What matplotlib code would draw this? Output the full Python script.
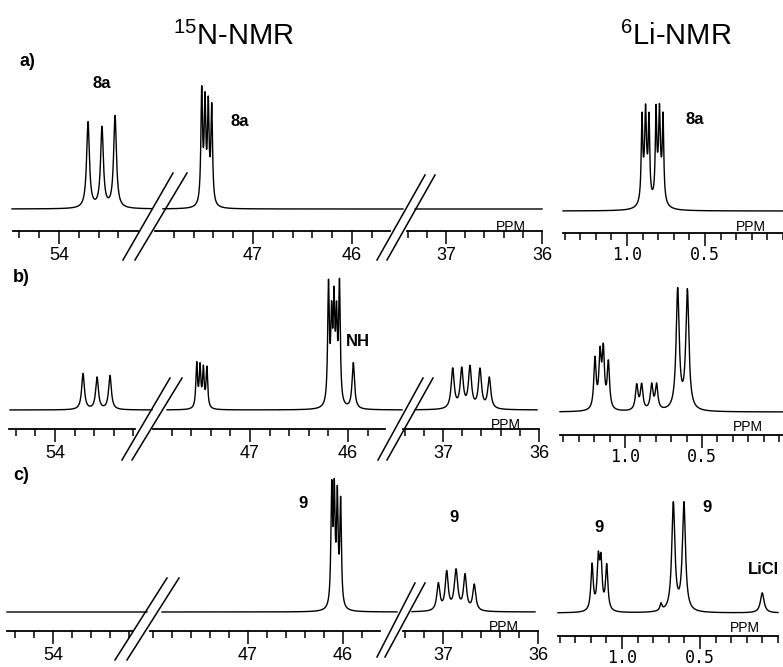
import numpy as np
import matplotlib.pyplot as plt
from matplotlib.ticker import FixedLocator, FixedFormatter, MultipleLocator
from matplotlib.lines import Line2D

plt.rcParams['font.family'] = ['Liberation Sans', 'DejaVu Sans']
plt.rcParams['mathtext.fontset'] = 'custom'
plt.rcParams['mathtext.rm'] = 'Liberation Sans'

# peak lists: shift (ppm), height (px above baseline), half width (ppm)
# a)
n15_a_pos = [53.707, 53.566, 53.434, 47.518, 47.485, 47.452, 47.417]
n15_a_int = [86, 80, 92, 112, 98, 95, 96]
n15_a_hw = [0.017, 0.017, 0.017, 0.010, 0.010, 0.010, 0.010]
li_a_pos = [0.904, 0.881, 0.859, 0.814, 0.792, 0.769, 0.881, 0.792]
li_a_int = [80, 62, 76, 84, 62, 80, 34, 34]
li_a_hw = [0.0055, 0.0055, 0.0055, 0.0055, 0.0055, 0.0055, 0.018, 0.018]

# b)
n15_b_pos = [53.714, 53.571, 53.439, 47.544, 47.510, 47.476, 47.440,
             46.199, 46.168, 46.143, 46.117, 46.087, 45.946,
             36.899, 36.805, 36.719, 36.615, 36.518]
n15_b_int = [36, 32, 34, 44, 40, 38, 40,
             118, 80, 95, 80, 118, 46,
             40, 39, 41, 39, 31]
n15_b_hw = [0.017, 0.017, 0.017, 0.010, 0.010, 0.010, 0.010,
            0.010, 0.010, 0.010, 0.010, 0.010, 0.015,
            0.019, 0.019, 0.019, 0.019, 0.019]
li_b_pos = [1.195, 1.162, 1.141, 1.108, 0.924, 0.892, 0.827, 0.795, 0.658, 0.595]
li_b_int = [50, 52, 56, 46, 25, 25, 25, 25, 120, 119]
li_b_hw = [0.009, 0.009, 0.009, 0.009, 0.010, 0.010, 0.010, 0.010, 0.012, 0.012]

# c)
n15_c_pos = [46.119, 46.092, 46.060, 46.025, 37.049, 36.961, 36.863, 36.768, 36.671]
n15_c_int = [115, 108, 106, 104, 27, 38, 40, 35, 26]
n15_c_hw = [0.010, 0.010, 0.010, 0.010, 0.019, 0.019, 0.022, 0.019, 0.019]
li_c_pos = [1.192, 1.152, 1.135, 1.098, 0.750, 0.671, 0.603, 0.101]
li_c_int = [46, 48, 46, 45, 7, 108, 108, 20]
li_c_hw = [0.009, 0.009, 0.009, 0.009, 0.008, 0.012, 0.012, 0.014]

n15_major = [54, 47, 46, 37, 36]
n15_labels = ['54', '47', '46', '37', '36']
li_major = [1.0, 0.5]
li_labels = ['1.0', '0.5']

W, H = 783, 667
fig = plt.figure(figsize=(W / 100, H / 100), dpi=100)


def spectrum(ppm, pos, amp, hw):
    y = np.zeros_like(ppm)
    for p, a, w in zip(pos, amp, hw):
        y += a * w ** 2 / ((ppm - p) ** 2 + w ** 2)
    return y


def segment(x0, x1, xref, ref, scale, axis_y, base_y, tx0, tx1, pos, amp, hw,
            minor, mono=False):
    ax = fig.add_axes([x0 / W, 1 - axis_y / H, (x1 - x0) / W, 175 / H])
    ax.patch.set_visible(False)
    left = ref + (xref - x0) / scale
    right = ref - (x1 - xref) / scale
    ax.set_xlim(left, right)
    ax.set_ylim(0, 175)
    ppm = np.linspace(ref + (xref - tx0) / scale, ref - (tx1 - xref) / scale, 6000)
    ax.plot(ppm, (axis_y - base_y) + spectrum(ppm, pos, amp, hw),
            color='black', lw=1.0, clip_on=False)
    for s in ['top', 'left', 'right']:
        ax.spines[s].set_visible(False)
    ax.spines['bottom'].set_linewidth(1.3)
    ax.set_yticks([])
    if mono:
        ax.xaxis.set_major_locator(FixedLocator(li_major))
        ax.xaxis.set_major_formatter(FixedFormatter(li_labels))
    else:
        ax.xaxis.set_major_locator(FixedLocator(n15_major))
        ax.xaxis.set_major_formatter(FixedFormatter(n15_labels))
    ax.xaxis.set_minor_locator(MultipleLocator(minor))
    ax.tick_params(axis='x', which='major', length=9, width=1.1, pad=0.5 if mono else 2.5,
                   labelsize=12 if mono else 13)
    ax.tick_params(axis='x', which='minor', length=5, width=1.1)
    if mono:
        for t in ax.get_xticklabels():
            t.set_fontfamily('DejaVu Sans Mono')
    return ax


# row a
segment(13, 138, 59, 54, 99, 231, 209, 12, 152, n15_a_pos, n15_a_int, n15_a_hw, 0.2)
segment(155, 390, 253, 47, 99, 231, 209, 163, 403, n15_a_pos, n15_a_int, n15_a_hw, 0.2)
segment(407, 542, 446, 37, 96, 231, 209, 415, 542, n15_a_pos, n15_a_int, n15_a_hw, 0.2)
segment(563, 783, 627, 1.0, 156, 233, 211, 563, 783, li_a_pos, li_a_int, li_a_hw, 0.1, True)

# row b
segment(9, 135, 55, 54, 98, 429, 410, 10, 152, n15_b_pos, n15_b_int, n15_b_hw, 0.2)
segment(153, 385, 250, 47, 98, 429, 410, 167, 402, n15_b_pos, n15_b_int, n15_b_hw, 0.2)
segment(403, 539, 443, 37, 96, 429, 410, 415, 537, n15_b_pos, n15_b_int, n15_b_hw, 0.2)
segment(560, 783, 625, 1.0, 154, 435, 412, 560, 783, li_b_pos, li_b_int, li_b_hw, 0.1, True)

# row c
segment(7, 133, 53, 54, 95, 631, 612, 7, 147, n15_c_pos, n15_c_int, n15_c_hw, 0.2)
segment(150, 380, 248, 47, 95, 631, 612, 162, 397, n15_c_pos, n15_c_int, n15_c_hw, 0.2)
segment(403, 538, 443, 37, 95, 631, 612, 412, 535, n15_c_pos, n15_c_int, n15_c_hw, 0.2)
segment(558, 778, 622, 1.0, 156, 636, 613, 558, 778, li_c_pos, li_c_int, li_c_hw, 0.1, True)

# axis break marks
breaks = [((123, 260), (173, 173)), ((135, 260), (187, 173)),
          ((377, 260), (425, 175)), ((387, 260), (435, 175)),
          ((122, 460), (170, 378)), ((132, 460), (182, 378)),
          ((378, 460), (423, 378)), ((387, 460), (433, 378)),
          ((115, 660), (167, 578)), ((127, 660), (179, 578)),
          ((377, 657), (415, 583)), ((385, 657), (425, 583))]
for (xa, ya), (xb, yb) in breaks:
    fig.add_artist(Line2D([xa / W, xb / W], [1 - ya / H, 1 - yb / H],
                          transform=fig.transFigure, color='black', lw=1.1))


def label(x, y, s, size=12, weight='bold', **kw):
    fig.text(x / W, 1 - y / H, s, fontsize=size, fontweight=weight,
             ha='center', va='center', **kw)


label(234, 36, r'$^{15}$N-NMR', size=21, weight='normal')
label(676, 36, r'$^{6}$Li-NMR', size=21, weight='normal')
label(27, 62, 'a)', size=13)
label(21, 278, 'b)', size=13)
label(21, 475, 'c)', size=13)

label(102, 83, '8a')
label(240, 122, '8a')
label(695, 120, '8a')
label(358, 342, 'NH')
label(303, 503, '9')
label(454, 518, '9')
label(599, 527, '9')
label(707, 508, '9')
label(763, 569, 'LiCl')

for x, y in [(511, 227), (751, 227), (506, 425), (748, 427), (504, 627), (745, 628)]:
    label(x, y, 'PPM', size=10, weight='normal')

fig.savefig('out.png', dpi=100)
